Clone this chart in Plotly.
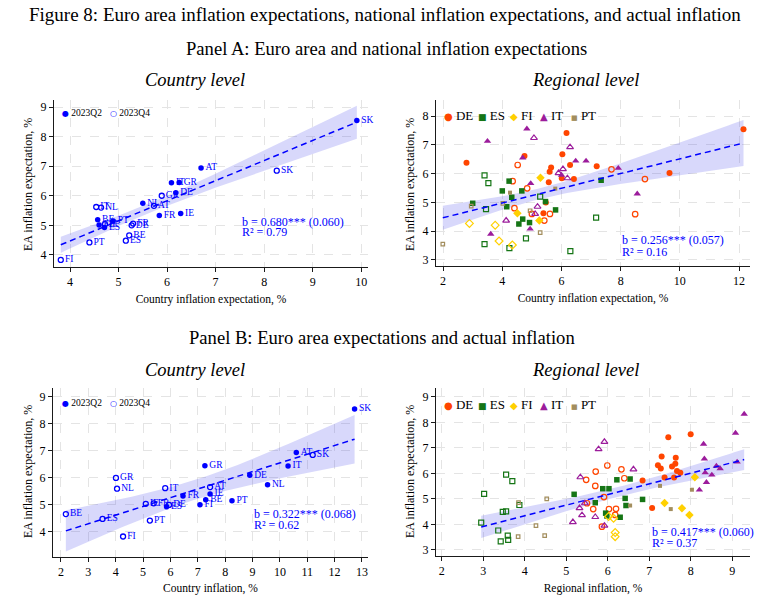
import numpy as np
import plotly.graph_objects as go

SERIF = "Liberation Serif"
BLUE = "#0000FF"
W, H = 771, 595

# ---------------- Country-level data ----------------
countries = ["SK", "AT", "IT", "GR", "DE", "NL", "IE", "FR", "BE", "PT", "FI", "ES"]
ea_exp_q2 = [8.55, 6.94, 6.44, 6.45, 6.10, 5.75, 5.40, 5.33, 5.19, 5.15, 5.01, 4.93]
ea_exp_q4 = [6.85, 5.66, 5.62, 6.00, 5.00, 5.60, 5.04, 5.06, 4.66, 4.42, 3.83, 4.48]
nat_exp_q2 = [9.91, 6.70, 6.09, 6.25, 6.18, 5.50, 6.28, 5.84, 4.57, 4.89, 4.60, 4.71]
nat_exp_q4 = [8.26, 5.73, 4.54, 5.89, 5.27, 4.64, 4.72, 5.30, 5.22, 4.40, 3.81, 5.15]
infl_q2 = [12.73, 10.60, 10.30, 7.26, 8.90, 9.55, 7.45, 6.46, 7.29, 8.25, 7.08, 5.86]
infl_q4 = [11.20, 7.45, 5.81, 4.01, 5.95, 4.05, 5.10, 5.39, 2.18, 5.25, 4.27, 3.52]

# ---------------- Regional data: (x, y) pairs ----------------
# Panel A: x = regional inflation expectation, y = EA inflation expectation
a_de_q2 = [(2.79, 6.38), (4.75, 6.61), (6.17, 7.41), (6.03, 6.67), (6.29, 6.30), (5.65, 6.21), (5.60, 6.07),
           (6.01, 5.84), (6.42, 5.81), (5.57, 5.70), (5.47, 5.00), (7.19, 6.26), (9.65, 6.02), (12.15, 7.54), (5.39, 4.62)]
a_de_q4 = [(4.52, 6.30), (4.35, 5.74), (4.84, 5.49), (7.69, 6.15), (8.82, 5.81), (4.41, 4.80), (5.00, 4.60),
           (5.61, 4.60), (5.42, 4.37), (8.49, 4.59)]
a_es_q2 = [(3.00, 4.97), (4.00, 5.40), (4.23, 5.74), (4.32, 5.18), (4.66, 5.40), (5.46, 5.03), (7.34, 5.77),
           (4.15, 4.85), (5.80, 4.74), (4.69, 4.42), (4.56, 4.25), (4.92, 4.30)]
a_es_q4 = [(3.40, 5.94), (3.53, 5.67), (5.28, 5.20), (3.45, 4.77), (3.40, 3.55), (4.24, 3.41), (4.80, 3.75),
           (6.30, 3.31), (7.17, 4.47)]
a_fi_q2 = [(5.29, 5.86), (4.51, 4.62), (5.25, 4.37)]
a_fi_q4 = [(2.89, 4.27), (3.76, 4.21), (3.89, 3.66), (4.34, 3.52)]
a_it_q2 = [(3.50, 7.13), (4.83, 7.56), (4.69, 6.55), (4.96, 5.66), (6.48, 6.44), (6.00, 5.95), (6.83, 6.44),
           (7.92, 6.19), (8.56, 5.30), (4.94, 4.08), (3.61, 3.90)]
a_it_q4 = [(5.07, 7.24), (6.29, 6.92), (6.05, 6.16), (5.90, 6.02), (6.20, 5.84), (4.13, 4.37), (5.19, 4.85),
           (5.11, 4.60)]
a_pt_q2 = [(4.26, 5.34), (5.79, 5.48)]
a_pt_q4 = [(2.95, 4.87), (4.02, 4.97), (4.94, 4.71), (1.99, 3.55), (5.28, 3.95)]

# Panel B: x = regional inflation, y = EA inflation expectation
b_de_q2 = [(8.00, 7.54), (7.46, 7.42), (7.30, 6.66), (7.64, 6.61), (7.21, 6.32), (7.28, 6.19), (7.55, 6.27),
           (7.63, 6.38), (7.67, 6.09), (7.75, 6.03), (7.37, 5.84), (7.60, 5.84), (6.84, 5.72), (7.07, 4.64)]
b_de_q4 = [(5.48, 5.75), (5.71, 6.07), (5.99, 6.31), (6.33, 6.16), (5.70, 5.51), (6.40, 5.81), (5.91, 5.07),
           (5.50, 4.83), (5.65, 4.60), (6.03, 4.60), (6.20, 4.61), (6.18, 4.37), (5.86, 3.91)]
b_es_q2 = [(6.22, 5.75), (6.54, 5.78), (5.19, 5.18), (5.88, 5.40), (6.03, 5.40), (6.42, 5.02), (6.84, 4.98),
           (5.70, 4.85), (6.44, 4.74), (5.95, 4.44), (5.98, 4.33), (6.30, 4.28)]
b_es_q4 = [(3.55, 5.95), (3.70, 5.70), (3.02, 5.20), (2.95, 4.07), (3.47, 4.49), (3.55, 4.51), (3.87, 4.76),
           (3.36, 3.76), (3.59, 3.56), (3.60, 3.39), (3.42, 3.33)]
b_fi_q2 = [(8.10, 5.85), (7.37, 4.84), (7.79, 4.63), (7.97, 4.37)]
b_fi_q4 = [(6.02, 4.31), (6.14, 4.24), (6.18, 3.68), (6.18, 3.52)]
b_it_q2 = [(9.29, 8.33), (9.08, 7.58), (8.31, 7.15), (8.33, 6.57), (8.35, 6.03), (8.62, 6.29), (8.71, 6.19),
           (8.51, 5.94), (9.12, 6.45), (8.38, 5.65), (8.21, 5.35)]
b_it_q4 = [(5.92, 7.24), (5.78, 6.95), (5.34, 5.85), (6.62, 6.16), (5.32, 4.64), (5.38, 4.36), (5.16, 4.09),
           (5.70, 4.29), (5.92, 3.95), (5.45, 4.83)]
b_pt_q2 = [(7.26, 5.51), (8.03, 5.36), (6.54, 4.74), (7.52, 4.60)]
b_pt_q4 = [(4.53, 5.00), (4.27, 3.95), (3.84, 3.52), (4.48, 3.56), (3.85, 4.85)]

# Regression statistics printed on each panel
coef_b = [0.680, 0.256, 0.322, 0.417]
coef_se = [0.060, 0.057, 0.068, 0.060]
r_squared = [0.79, 0.16, 0.62, 0.37]

reg_names = ["DE", "ES", "FI", "IT", "PT"]
reg_colors = {"DE": "#FF4500", "ES": "#157515", "FI": "#FFD000", "IT": "#9C1C9C", "PT": "#A38E5E"}
reg_symbols = {"DE": "circle", "ES": "square", "FI": "diamond", "IT": "triangle-up", "PT": "square"}
reg_sizes = {"DE": 6, "ES": 5.5, "FI": 6.5, "IT": 6.5, "PT": 4}

fig = go.Figure()


def t975(df):
    z = 1.959964
    return z + (z ** 3 + z) / (4 * df) + (5 * z ** 5 + 16 * z ** 3 + 3 * z) / (96 * df ** 2)


def add_fit(x, y, b, se, xa, ya):
    x = np.asarray(x, float)
    y = np.asarray(y, float)
    n = len(x)
    xm, ym = x.mean(), y.mean()
    vx = ((x - xm) ** 2).mean()
    xs = np.linspace(x.min(), x.max(), 80)
    yh = ym + b * (xs - xm)
    h = t975(n - 2) * se * np.sqrt(vx + (xs - xm) ** 2)
    fig.add_trace(go.Scatter(x=np.concatenate([xs, xs[::-1]]), y=np.concatenate([yh + h, (yh - h)[::-1]]),
                             fill="toself", fillcolor="rgba(60,60,235,0.2)", line=dict(width=0),
                             mode="lines", hoverinfo="skip", showlegend=False, xaxis=xa, yaxis=ya))
    return xs, yh


def add_line(xs, yh, xa, ya):
    fig.add_trace(go.Scatter(x=xs, y=yh, mode="lines", line=dict(color=BLUE, width=1.5, dash="6px,4px"),
                             showlegend=False, hoverinfo="skip", xaxis=xa, yaxis=ya))


def country_panel(xq2, xq4, xa, ya, b, se):
    xs, yh = add_fit(list(xq2) + list(xq4), ea_exp_q2 + ea_exp_q4, b, se, xa, ya)
    fig.add_trace(go.Scatter(x=xq2, y=ea_exp_q2, mode="markers+text", text=countries, cliponaxis=False,
                             textposition="middle right", textfont=dict(family=SERIF, size=9.5, color=BLUE),
                             marker=dict(symbol="circle", size=5.5, color=BLUE),
                             showlegend=False, xaxis=xa, yaxis=ya))
    fig.add_trace(go.Scatter(x=xq4, y=ea_exp_q4, mode="markers+text", text=countries, cliponaxis=False,
                             textposition="middle right", textfont=dict(family=SERIF, size=9.5, color=BLUE),
                             marker=dict(symbol="circle-open", size=5, color=BLUE, line=dict(width=1.3, color=BLUE)),
                             showlegend=False, xaxis=xa, yaxis=ya))
    add_line(xs, yh, xa, ya)


def regional_panel(groups, xa, ya, b, se):
    allx, ally = [], []
    for q2, q4 in groups.values():
        for p in q2 + q4:
            allx.append(p[0])
            ally.append(p[1])
    xs, yh = add_fit(allx, ally, b, se, xa, ya)
    for name in reg_names:
        q2, q4 = groups[name]
        c = reg_colors[name]
        fig.add_trace(go.Scatter(x=[p[0] for p in q4], y=[p[1] for p in q4], mode="markers", cliponaxis=False,
                                 marker=dict(symbol=reg_symbols[name] + "-open", size=reg_sizes[name] - 0.5,
                                             color=c, line=dict(width=1.2, color=c)),
                                 showlegend=False, xaxis=xa, yaxis=ya))
        fig.add_trace(go.Scatter(x=[p[0] for p in q2], y=[p[1] for p in q2], mode="markers", cliponaxis=False,
                                 marker=dict(symbol=reg_symbols[name], size=reg_sizes[name], color=c,
                                             line=dict(width=0)),
                                 showlegend=False, xaxis=xa, yaxis=ya))
    add_line(xs, yh, xa, ya)


country_panel(nat_exp_q2, nat_exp_q4, "x", "y", coef_b[0], coef_se[0])
regional_panel({"DE": (a_de_q2, a_de_q4), "ES": (a_es_q2, a_es_q4), "FI": (a_fi_q2, a_fi_q4),
                "IT": (a_it_q2, a_it_q4), "PT": (a_pt_q2, a_pt_q4)}, "x2", "y2", coef_b[1], coef_se[1])
country_panel(infl_q2, infl_q4, "x3", "y3", coef_b[2], coef_se[2])
regional_panel({"DE": (b_de_q2, b_de_q4), "ES": (b_es_q2, b_es_q4), "FI": (b_fi_q2, b_fi_q4),
                "IT": (b_it_q2, b_it_q4), "PT": (b_pt_q2, b_pt_q4)}, "x4", "y4", coef_b[3], coef_se[3])


def xdom(a, b):
    return [a / W, b / W]


def ydom(top, bottom):
    return [1 - bottom / H, 1 - top / H]


def axis(domain, rng, ticks, anchor, title=None, standoff=6):
    d = dict(domain=domain, range=rng, tickvals=ticks, anchor=anchor, showline=True, linecolor="#1a1a1a",
             linewidth=1, ticks="outside", ticklen=4, tickcolor="#1a1a1a",
             tickfont=dict(family=SERIF, size=12, color="black"), showgrid=True, gridcolor="#E4E4E4",
             griddash="dash", gridwidth=1, zeroline=False, fixedrange=True)
    if title:
        d["title"] = dict(text=title, font=dict(family=SERIF, size=11.5, color="black"), standoff=standoff)
    return d


layout_axes = dict(
    xaxis=axis(xdom(54, 368), [3.67, 10.14], list(range(4, 11)), "y", "Country inflation expectation, %"),
    yaxis=axis(ydom(100, 267), [3.59, 9.24], list(range(4, 10)), "x"),
    xaxis2=axis(xdom(436, 750), [1.76, 12.37], list(range(2, 13, 2)), "y2", "Country inflation expectation, %"),
    yaxis2=axis(ydom(100, 266), [2.79, 8.56], list(range(3, 9)), "x2"),
    xaxis3=axis(xdom(53, 368), [1.71, 13.22], list(range(2, 14)), "y3", "Country inflation, %"),
    yaxis3=axis(ydom(388, 557), [3.07, 9.33], list(range(4, 10)), "x3"),
    xaxis4=axis(xdom(436, 750), [1.86, 9.43], list(range(2, 10)), "y4", "Regional inflation, %"),
    yaxis4=axis(ydom(388, 556), [2.76, 9.35], list(range(3, 10)), "x4"),
)

ann = []


def ptxt(text, x, y, size, xanchor="center", italic=False, color="black", angle=0):
    if italic:
        text = "<i>" + text + "</i>"
    ann.append(dict(text=text, x=x / W, y=1 - y / H, xref="paper", yref="paper", xanchor=xanchor,
                    yanchor="middle", showarrow=False, textangle=angle,
                    font=dict(family=SERIF, size=size, color=color)))


ptxt("Figure 8: Euro area inflation expectations, national inflation expectations, and actual inflation",
     385, 14, 19)
ptxt("Panel A: Euro area and national inflation expectations", 386, 48, 18.6)
ptxt("Country level", 195, 80, 18.5, italic=True)
ptxt("Regional level", 585, 80, 18.5, italic=True)
ptxt("Panel B: Euro area expectations and actual inflation", 382, 337, 18.6)
ptxt("Country level", 195, 370, 18.5, italic=True)
ptxt("Regional level", 585, 370, 18.5, italic=True)

ytitle = "EA inflation expectation, %"
ptxt(ytitle, 28, 185, 12, angle=-90)
ptxt(ytitle, 410, 185, 12, angle=-90)
ptxt(ytitle, 28, 472, 12, angle=-90)
ptxt(ytitle, 410, 472, 12, angle=-90)

# statistics text, placed in data coordinates
stat_pos = [("x", "y", 7.51, 5.12, 4.78), ("x2", "y2", 7.98, 3.69, 3.29),
            ("x3", "y3", 8.97, 4.66, 4.26), ("x4", "y4", 7.02, 3.69, 3.26)]
for i, (xa, ya, sx, sy1, sy2) in enumerate(stat_pos):
    for txt, sy in ((f"b = {coef_b[i]:.3f}*** ({coef_se[i]:.3f})", sy1), (f"R² = {r_squared[i]:.2f}", sy2)):
        ann.append(dict(text=txt, x=sx, y=sy, xref=xa, yref=ya, xanchor="left", yanchor="middle",
                        showarrow=False, font=dict(family=SERIF, size=12, color=BLUE)))


# legends drawn as text with coloured glyphs
def legend_item(glyph, gcolor, gsize, label, x, y, tsize):
    t = (f"<span style='color:{gcolor};font-size:{gsize}px;font-family:DejaVu Sans'>{glyph}</span>"
         f"\u00a0{label}")
    ann.append(dict(text=t, x=x / W, y=1 - y / H, xref="paper", yref="paper", xanchor="left",
                    yanchor="middle", showarrow=False, font=dict(family=SERIF, size=tsize, color="black")))


for ly in (112.5, 402.5):
    legend_item("●", BLUE, 8, "2023Q2", 59.5, ly, 9.5)
    legend_item("○", BLUE, 8, "2023Q4", 108, ly, 9.5)

reg_glyph = {"DE": ("●", 10), "ES": ("■", 9), "FI": ("◆", 10), "IT": ("▲", 10), "PT": ("■", 7)}
reg_leg_x = {"DE": 442, "ES": 476, "FI": 508, "IT": 538, "PT": 569}
for ly in (116, 404):
    for name in reg_names:
        g, s = reg_glyph[name]
        legend_item(g, reg_colors[name], s, name, reg_leg_x[name], ly, 13)

fig.update_layout(
    width=W, height=H, margin=dict(l=0, r=0, t=0, b=0),
    paper_bgcolor="white", plot_bgcolor="white", showlegend=False,
    annotations=ann, **layout_axes,
)

fig.write_html("out.html")
